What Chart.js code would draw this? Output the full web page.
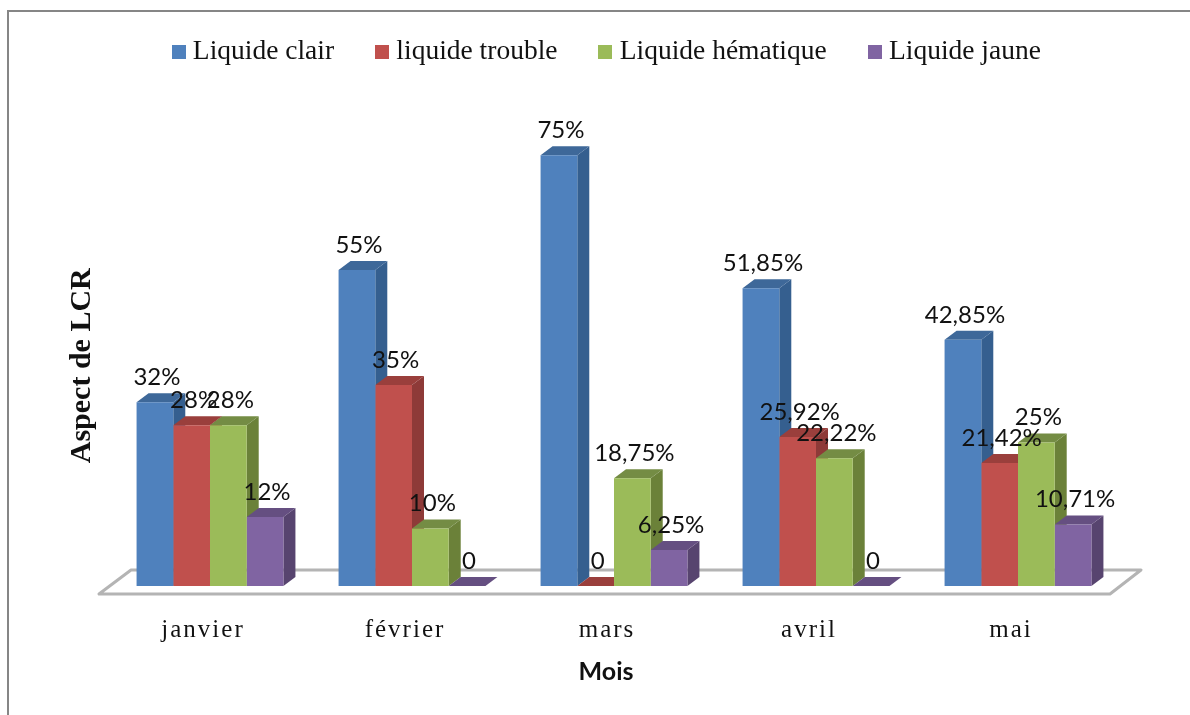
<!DOCTYPE html>
<html><head><meta charset="utf-8">
<style>html,body{margin:0;padding:0;background:#fff}#w{width:1190px;height:715px}</style>
<script src="https://cdn.jsdelivr.net/npm/chart.js@4"></script></head>
<body><div id="w"><canvas id="c" width="1190" height="715"></canvas></div>
<script>
const months = ['janvier','février','mars','avril','mai'];
const seriesNames = ['Liquide clair','liquide trouble','Liquide hématique','Liquide jaune'];
const clair = [32,55,75,51.85,42.85];
const trouble = [28,35,0,25.92,21.42];
const hematique = [28,10,18.75,22.22,25];
const jaune = [12,0,6.25,0,10.71];
const front = ['#4F81BD','#C0504D','#9BBB59','#8064A2'];
const side = ['#355F8F','#8E3A38','#6B8139','#57446F'];
const top3d = ['#3E6899','#9A3F3C','#748C44','#654F81'];
const seriesValues = [clair,trouble,hematique,jaune];
const DX=12, DY=9;
function fmt(v){return v===0?'0':String(v).replace('.',',')+'%';}
function swatch(col){const s=document.createElement('canvas');s.width=14;s.height=14;const g=s.getContext('2d');g.fillStyle=col;g.fillRect(0,0,14,14);return s;}
const scene={id:'scene',
 afterLayout(ch){
  const x=ch.scales.x,y=ch.scales.y,g=ch.ctx;
  const dl=x.drawLabels.bind(x);
  x.drawLabels=a=>{g.save();g.letterSpacing='2px';dl(a);g.restore();};
  const dt=x.drawTitle.bind(x);
  x.drawTitle=()=>{g.save();g.translate(-8,0);dt();g.restore();};
  const yt=y.drawTitle.bind(y);
  y.drawTitle=()=>{g.save();g.translate(0,35);yt();g.restore();};
  ch.legend.left+=50;ch.legend.right+=50;
 },
 beforeDraw(ch){const g=ch.ctx;g.save();g.fillStyle='#fff';g.fillRect(0,0,1190,715);
  g.strokeStyle='#868686';g.lineWidth=2;g.beginPath();g.moveTo(8,715);g.lineTo(8,11);g.lineTo(1190,11);g.stroke();g.restore();},
 beforeDatasetsDraw(ch){const g=ch.ctx,a=ch.chartArea,b=ch.scales.y.getPixelForValue(0);
  g.save();
  g.strokeStyle='#b4b4b4';g.lineWidth=3;g.lineJoin='round';g.beginPath();
  g.moveTo(a.left+22,b-16);g.lineTo(a.left-10,b+8);g.lineTo(a.right-9,b+8);g.lineTo(a.right+22,b-16);g.closePath();
  g.fillStyle='#fff';g.fill();g.stroke();
  ch.data.datasets.forEach((d,i)=>{ch.getDatasetMeta(i).data.forEach(r=>{
    const l=r.x-r.width/2,R=r.x+r.width/2,t=r.y;
    g.fillStyle=side[i];g.beginPath();g.moveTo(R,t);g.lineTo(R+DX,t-DY);g.lineTo(R+DX,b-DY);g.lineTo(R,b);g.closePath();g.fill();
    g.fillStyle=top3d[i];g.beginPath();g.moveTo(l,t);g.lineTo(l+DX,t-DY);g.lineTo(R+DX,t-DY);g.lineTo(R,t);g.closePath();g.fill();
  });});
  g.restore();},
 afterDatasetsDraw(ch){const g=ch.ctx;g.save();g.fillStyle='#111';g.font='24px Lato';g.textAlign='center';g.textBaseline='middle';
  ch.data.datasets.forEach((d,i)=>{ch.getDatasetMeta(i).data.forEach((r,j)=>{g.fillText(fmt(d.data[j]),r.x+2,r.y-25);});});
  g.restore();}
};
new Chart(document.getElementById('c'),{type:'bar',
 data:{labels:months,datasets:seriesNames.map((n,i)=>({label:n,data:seriesValues[i],backgroundColor:front[i],borderWidth:0,
   pointStyle:swatch(front[i]),categoryPercentage:0.727,barPercentage:1}))},
 plugins:[scene],
 options:{responsive:false,animation:false,
  layout:{padding:{top:-9.5,left:0,right:71,bottom:0}},
  plugins:{tooltip:{enabled:false},
   legend:{position:'top',align:'center',labels:{usePointStyle:true,pointStyleWidth:1,color:'#111',padding:47.5,font:{family:'Liberation Serif',size:27.5}}}},
  scales:{
   x:{grid:{display:false},border:{display:false},
      ticks:{color:'#111',padding:21,labelOffset:-7,font:{family:'Liberation Serif',size:25}},
      title:{display:true,text:'Mois',color:'#111',font:{family:'Lato',size:25,weight:'bold'},padding:{top:0,bottom:28}},
      afterFit(s){s.height=129;}},
   y:{min:0,max:88.87,grid:{display:false},border:{display:false},
      ticks:{display:false},
      title:{display:true,text:'Aspect de LCR',color:'#111',font:{family:'Liberation Serif',size:30,weight:'bold'},padding:{top:64,bottom:0}},
      afterFit(s){s.width=109;}}
  }}
});
</script></body></html>
